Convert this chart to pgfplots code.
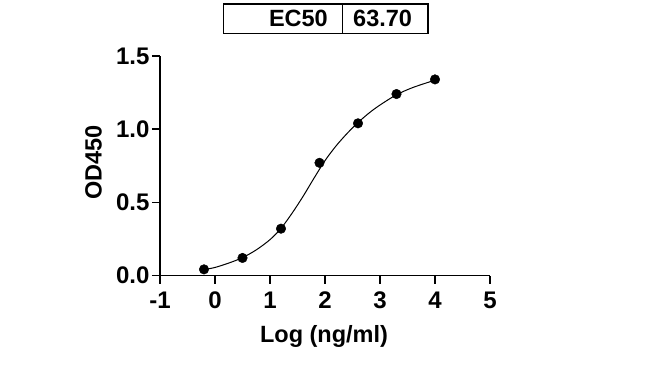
\documentclass[border=0pt]{standalone}
\usepackage{pgfplots}
\pgfplotsset{compat=1.18}
\usepackage{fontspec}
\setmainfont{Liberation Sans}
\begin{document}
\begin{tikzpicture}
\useasboundingbox (-160bp,-89.5bp) rectangle (490bp,275.5bp);
\begin{axis}[
  at={(0,0)}, anchor=south west,
  scale only axis, width=330bp, height=219.5bp,
  xmin=-1, xmax=5, ymin=0, ymax=1.5,
  axis x line=bottom, axis y line=left,
  axis line style={line width=1.6bp, -},
  every tick/.style={line width=1.6bp, black},
  tick align=outside, major tick length=8bp,
  xtick={-1,0,1,2,3,4,5}, xticklabels={-1,0,1,2,3,4,5},
  ytick={0,0.5,1,1.5}, yticklabels={0.0,0.5,1.0,1.5},
  tick label style={font=\fontsize{24bp}{28bp}\selectfont\bfseries},
  xticklabel style={yshift=-5bp},
  yticklabel style={xshift=1bp},
  xlabel={Log (ng/ml)}, ylabel={OD450},
  label style={font=\fontsize{23.5bp}{28bp}\selectfont\bfseries},
  xlabel style={at={(axis description cs:0.497,0)}, anchor=base, yshift=-67bp},
  ylabel style={at={(axis description cs:-0.1767,0.515)}, anchor=base},
  clip=false,
]
\addplot[black, line width=1bp, smooth, tension=0.5] coordinates {
(-0.2,0.040) (0.0,0.055) (0.25,0.085) (0.5,0.122) (0.75,0.175) (1.0,0.245)
(1.2,0.322) (1.4,0.425) (1.6,0.540) (1.8,0.665) (2.0,0.785) (2.2,0.885)
(2.4,0.970) (2.6,1.045) (2.8,1.110) (3.0,1.165) (3.3,1.235) (3.6,1.285) (4.0,1.335)
};
\addplot[only marks, mark=*, mark size=4.8bp, black] coordinates {
(-0.2,0.042) (0.5,0.12) (1.2,0.32) (1.9,0.77) (2.6,1.04) (3.3,1.24) (4.0,1.34)
};
\end{axis}
\draw[line width=1.5bp] (63.3bp,242.2bp) rectangle (268bp,271.5bp);
\draw[line width=1.5bp] (182.3bp,242.2bp) -- (182.3bp,271.5bp);
\node[anchor=base east, inner sep=0pt, font=\fontsize{23.5bp}{27bp}\selectfont\bfseries] at (168bp,248.8bp) {EC50};
\node[anchor=base west, inner sep=0pt, font=\fontsize{23.5bp}{27bp}\selectfont\bfseries] at (193bp,248.8bp) {63.70};
\end{tikzpicture}
\end{document}
